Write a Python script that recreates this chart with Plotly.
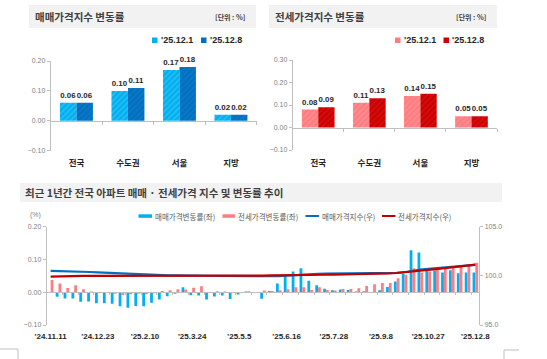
import plotly.graph_objects as go

W, H = 547, 359

# ---------------- data ----------------
regions = ["전국", "수도권", "서울", "지방"]
week_prev_label = "'25.12.1"
week_curr_label = "'25.12.8"
sale_prev = [0.06, 0.10, 0.17, 0.02]
sale_curr = [0.06, 0.11, 0.18, 0.02]
jeonse_prev = [0.08, 0.11, 0.14, 0.05]
jeonse_curr = [0.09, 0.13, 0.15, 0.05]

weeks = [
    "'24.11.11", "'24.11.18", "'24.11.25", "'24.12.2", "'24.12.9", "'24.12.16",
    "'24.12.23", "'24.12.30", "'25.1.6", "'25.1.13", "'25.1.20", "'25.2.3",
    "'25.2.10", "'25.2.17", "'25.2.24", "'25.3.3", "'25.3.10", "'25.3.17",
    "'25.3.24", "'25.3.31", "'25.4.7", "'25.4.14", "'25.4.21", "'25.4.28",
    "'25.5.5", "'25.5.12", "'25.5.19", "'25.5.26", "'25.6.2", "'25.6.9",
    "'25.6.16", "'25.6.23", "'25.6.30", "'25.7.7", "'25.7.14", "'25.7.21",
    "'25.7.28", "'25.8.4", "'25.8.11", "'25.8.18", "'25.8.25", "'25.9.1",
    "'25.9.8", "'25.9.15", "'25.9.22", "'25.9.29", "'25.10.13", "'25.10.20",
    "'25.10.27", "'25.11.3", "'25.11.10", "'25.11.17", "'25.11.24", "'25.12.1",
    "'25.12.8",
]
week_ticks = ["'24.11.11", "'24.12.23", "'25.2.10", "'25.3.24", "'25.5.5",
              "'25.6.16", "'25.7.28", "'25.9.8", "'25.10.27", "'25.12.8"]

sale_change = [
    0.000, -0.014, -0.019, -0.019, -0.029, -0.028, -0.034, -0.034, -0.035, -0.043,
    -0.047, -0.042, -0.043, -0.032, -0.022, -0.012, -0.005, 0.015, -0.009, -0.010,
    -0.022, -0.013, -0.010, -0.021, -0.007, 0.002, 0.001, -0.020, 0.004, 0.027,
    0.049, 0.063, 0.073, 0.035, 0.021, 0.011, 0.006, 0.008, 0.007, 0.002,
    0.003, 0.000, 0.006, 0.016, 0.033, 0.056, 0.128, 0.121, 0.065, 0.066,
    0.060, 0.067, 0.058, 0.060, 0.060,
]
jeonse_change = [
    0.037, 0.027, 0.013, 0.021, 0.009, 0.002, -0.003, -0.002, -0.005, -0.009,
    -0.006, -0.005, -0.006, -0.003, 0.004, 0.006, 0.009, 0.008, 0.014, 0.018,
    -0.002, 0.003, 0.002, 0.000, -0.001, 0.003, -0.002, 0.005, 0.004, 0.006,
    0.009, 0.015, 0.015, 0.007, 0.015, 0.007, 0.005, 0.010, 0.010, 0.012,
    0.019, 0.024, 0.028, 0.028, 0.043, 0.053, 0.073, 0.060, 0.063, 0.073,
    0.073, 0.080, 0.080, 0.080, 0.090,
]
sale_index = [
    100.50, 100.49, 100.47, 100.45, 100.42, 100.39, 100.36, 100.32, 100.29, 100.24,
    100.20, 100.15, 100.11, 100.08, 100.06, 100.04, 100.04, 100.05, 100.04, 100.03,
    100.01, 100.00, 99.99, 99.97, 99.96, 99.96, 99.96, 99.94, 99.95, 99.97,
    100.02, 100.08, 100.16, 100.19, 100.21, 100.22, 100.23, 100.24, 100.24, 100.25,
    100.25, 100.25, 100.26, 100.28, 100.31, 100.37, 100.52, 100.64, 100.71, 100.78,
    100.85, 100.92, 100.99, 101.06, 101.12,
]
jeonse_index = [
    99.93, 99.96, 99.97, 99.99, 100.00, 100.00, 100.00, 100.00, 99.99, 99.98,
    99.98, 99.97, 99.97, 99.96, 99.97, 99.97, 99.98, 99.99, 100.01, 100.02,
    100.02, 100.02, 100.03, 100.03, 100.03, 100.03, 100.03, 100.03, 100.04, 100.04,
    100.05, 100.07, 100.08, 100.09, 100.10, 100.11, 100.12, 100.13, 100.14, 100.15,
    100.17, 100.19, 100.22, 100.25, 100.29, 100.35, 100.45, 100.52, 100.60, 100.69,
    100.78, 100.87, 100.96, 101.05, 101.15,
]

legend_bottom = ["매매가격변동률(좌)", "전세가격변동률(좌)", "매매가격지수(우)", "전세가격지수(우)"]

# ---------------- styles ----------------
KR = "Noto Sans CJK KR"
LAT = "Liberation Sans, Arial"
AX = "#BFBFBF"
TICK = "#7F7F7F"
DARK = "#262626"

C_SALE_L, C_SALE_D = "#00B0F0", "#0070C0"
C_JS_L, C_JS_D = "#FF7C80", "#CC0000"
C_LINE_B, C_LINE_R = "#0070C0", "#C00000"


def fx(p):
    return p / W


def fy(p):
    return 1 - p / H


def zero_pos(dom, rng):
    return dom[0] + (0 - rng[0]) / (rng[1] - rng[0]) * (dom[1] - dom[0])


TL_X, TL_Y, TL_R = [fx(50.7), fx(256.7)], [fy(150.7), fy(61)], [-0.1, 0.2]
TR_X, TR_Y, TR_R = [fx(292.7), fx(497)], [fy(150), fy(60)], [-0.1, 0.3]
B_X, B_Y, B_R, B_R2 = [fx(46.7), fx(479.3)], [fy(325), fy(226.7)], [-0.1, 0.2], [95, 105]

fig = go.Figure()


def pattern(fg):
    return dict(shape="/", fillmode="overlay", fgcolor=fg, fgopacity=0.4, size=4, solidity=0.3)


bar_text = dict(family=LAT, size=7.9, color=DARK, weight="bold")
TW = 0.32  # top bar width (category units)
BW = 0.355  # bottom bar width


def top_bar(x, y, name, color, fg, xa, ya, off):
    fig.add_trace(go.Bar(x=x, y=y, name=name, xaxis=xa, yaxis=ya, width=TW, offset=off,
                         marker=dict(color=color, pattern=pattern(fg), line=dict(width=0)),
                         texttemplate="%{y:.2f}", textposition="outside", textfont=bar_text,
                         constraintext="none", cliponaxis=False, showlegend=False))


top_bar(regions, sale_prev, week_prev_label, C_SALE_L, "#7FD8F8", "x", "y", -TW)
top_bar(regions, sale_curr, week_curr_label, C_SALE_D, "#2A8AD0", "x", "y", 0)
top_bar(regions, jeonse_prev, week_prev_label, C_JS_L, "#FFB0B2", "x3", "y3", -TW)
top_bar(regions, jeonse_curr, week_curr_label, C_JS_D, "#E03030", "x3", "y3", 0)

# bottom: weekly changes (left) and indices (right)
fig.add_trace(go.Bar(x=weeks, y=sale_change, name=legend_bottom[0], xaxis="x5", yaxis="y5",
                     width=BW, offset=-BW, marker=dict(color=C_SALE_L, line=dict(width=0)),
                     showlegend=False))
fig.add_trace(go.Bar(x=weeks, y=jeonse_change, name=legend_bottom[1], xaxis="x5", yaxis="y5",
                     width=BW, offset=0, marker=dict(color=C_JS_L, line=dict(width=0)),
                     showlegend=False))
fig.add_trace(go.Scatter(x=weeks, y=sale_index, name=legend_bottom[2], xaxis="x5", yaxis="y6",
                         mode="lines", line=dict(color=C_LINE_B, width=2.2), showlegend=False))
fig.add_trace(go.Scatter(x=weeks, y=jeonse_index, name=legend_bottom[3], xaxis="x5", yaxis="y6",
                         mode="lines", line=dict(color=C_LINE_R, width=2.2), showlegend=False))

# zero-line axes carriers (no visible marks)
fig.add_trace(go.Scatter(x=regions, y=[None] * 4, xaxis="x2", yaxis="y", mode="markers",
                         showlegend=False, hoverinfo="skip"))
fig.add_trace(go.Scatter(x=regions, y=[None] * 4, xaxis="x4", yaxis="y3", mode="markers",
                         showlegend=False, hoverinfo="skip"))
fig.add_trace(go.Scatter(x=weeks, y=[None] * len(weeks), xaxis="x6", yaxis="y5", mode="markers",
                         showlegend=False, hoverinfo="skip"))

ytick_font = dict(family=LAT, size=7, color=TICK)
cat_font = dict(family=KR, size=8.5, color=DARK, weight="bold")
date_font = dict(family=LAT, size=8, color=DARK, weight="bold")


def yax(dom, rng, dtick, anchor, side="left", overlaying=None):
    d = dict(domain=dom, range=rng, dtick=dtick, tickformat=".2f" if dtick < 1 else ".1f",
             showgrid=False, zeroline=False, showline=True, linecolor=AX, linewidth=1,
             ticks="outside", ticklen=3, tickcolor=AX, tickfont=ytick_font, anchor=anchor,
             side=side, fixedrange=True, automargin=False)
    if overlaying:
        d["overlaying"] = overlaying
    return d


def xcat(dom, anchor, cats, font, tickvals=None, standoff=4):
    d = dict(domain=dom, anchor=anchor, type="category", categoryorder="array", categoryarray=cats,
             range=[-0.5, len(cats) - 0.5], showgrid=False, zeroline=False, showline=False,
             ticks="", tickfont=font, ticklabelstandoff=standoff, fixedrange=True, automargin=False)
    if tickvals is not None:
        d["tickmode"] = "array"
        d["tickvals"] = tickvals
    return d


def xzero(dom, over, cats, pos, ticklen=3):
    return dict(domain=dom, overlaying=over, anchor="free", position=pos, type="category",
                categoryorder="array", categoryarray=cats, range=[-0.5, len(cats) - 0.5],
                showgrid=False, zeroline=False, showline=True, linecolor=AX, linewidth=1,
                ticks="outside", ticklen=ticklen, tickcolor=AX, tickson="boundaries",
                showticklabels=False, fixedrange=True, automargin=False)


fig.update_layout(
    width=W, height=H, margin=dict(l=0, r=0, t=0, b=0, pad=0, autoexpand=False),
    paper_bgcolor="white", plot_bgcolor="rgba(0,0,0,0)",
    barmode="group", showlegend=False,
    xaxis=xcat(TL_X, "y", regions, cat_font, standoff=6),
    yaxis=yax(TL_Y, TL_R, 0.1, "x"),
    xaxis2=xzero(TL_X, "x", regions, zero_pos(TL_Y, TL_R)),
    xaxis3=xcat(TR_X, "y3", regions, cat_font, standoff=6),
    yaxis3=yax(TR_Y, TR_R, 0.1, "x3"),
    xaxis4=xzero(TR_X, "x3", regions, zero_pos(TR_Y, TR_R)),
    xaxis5=xcat(B_X, "y5", weeks, date_font, tickvals=week_ticks, standoff=5),
    yaxis5=yax(B_Y, B_R, 0.1, "x5"),
    yaxis6=yax(B_Y, B_R2, 5, "x5", side="right", overlaying="y5"),
    xaxis6=xzero(B_X, "x5", weeks, zero_pos(B_Y, B_R), ticklen=2),
)


def rect(x0, x1, y0, y1, color, layer="below"):
    return dict(type="rect", xref="paper", yref="paper", x0=fx(x0), x1=fx(x1), y0=fy(y1), y1=fy(y0),
                fillcolor=color, line=dict(width=0), layer=layer)


def hline(x0, x1, y, color, width):
    return dict(type="line", xref="paper", yref="paper", x0=fx(x0), x1=fx(x1), y0=fy(y), y1=fy(y),
                line=dict(color=color, width=width), layer="above")


shapes = [
    # title bands
    rect(29, 256, 5, 28, "#F2F2F2"),
    rect(269, 497, 5, 28, "#F2F2F2"),
    rect(20, 502, 183, 202, "#F2F2F2"),
    # legend swatches (top charts)
    rect(152, 157.5, 37.5, 43, C_SALE_L, "above"),
    rect(201, 206.5, 37.5, 43, C_SALE_D, "above"),
    rect(395, 400.5, 37.5, 43, C_JS_L, "above"),
    rect(443.5, 449, 37.5, 43, C_JS_D, "above"),
    # legend swatches (bottom chart)
    rect(138.5, 152, 214.3, 217.8, C_SALE_L, "above"),
    rect(222.5, 235, 214.3, 217.8, C_JS_L, "above"),
    hline(305.5, 319, 216, C_LINE_B, 2),
    hline(382, 395.5, 216, C_LINE_R, 2),
    # page decorations
    dict(type="path", xref="paper", yref="paper",
         path=f"M 0 {fy(349)} L {fx(18)} {fy(349)} L {fx(18)} 0", line=dict(color="#BFBFBF", width=1)),
    dict(type="path", xref="paper", yref="paper",
         path=f"M {fx(504)} 0 L {fx(504)} {fy(350)} L {fx(519)} {fy(350)}", line=dict(color="#BFBFBF", width=1)),
]
fig.update_layout(shapes=shapes)

title_font = dict(family=KR, size=10.5, color="#404040", weight="bold")
unit_font = dict(family=KR, size=7, color="#404040", weight="bold")
leg_font = dict(family=LAT, size=9, color=DARK, weight="bold")
leg3_font = dict(family=KR, size=7.5, color="#595959")
ann = [
    dict(text="매매가격지수 변동률", x=fx(33), y=fy(16.5), xanchor="left", yanchor="middle", font=title_font),
    dict(text="[단위 : %]", x=fx(247), y=fy(17), xanchor="right", yanchor="middle", font=unit_font),
    dict(text="전세가격지수 변동률", x=fx(273), y=fy(16.5), xanchor="left", yanchor="middle", font=title_font),
    dict(text="[단위 : %]", x=fx(488), y=fy(17), xanchor="right", yanchor="middle", font=unit_font),
    dict(text="최근 1년간 전국 아파트 매매 · 전세가격 지수 및 변동률 추이", x=fx(23), y=fy(192.5),
         xanchor="left", yanchor="middle", font=title_font),
    dict(text="(%)", x=fx(28), y=fy(215), xanchor="left", yanchor="middle",
         font=dict(family=LAT, size=7, color=TICK)),
    # legends
    dict(text=week_prev_label, x=fx(158.5), y=fy(40.3), xanchor="left", yanchor="middle", font=leg_font),
    dict(text=week_curr_label, x=fx(207.5), y=fy(40.3), xanchor="left", yanchor="middle", font=leg_font),
    dict(text=week_prev_label, x=fx(401.5), y=fy(40.3), xanchor="left", yanchor="middle", font=leg_font),
    dict(text=week_curr_label, x=fx(450), y=fy(40.3), xanchor="left", yanchor="middle", font=leg_font),
    dict(text=legend_bottom[0], x=fx(153), y=fy(216), xanchor="left", yanchor="middle", font=leg3_font),
    dict(text=legend_bottom[1], x=fx(236), y=fy(216), xanchor="left", yanchor="middle", font=leg3_font),
    dict(text=legend_bottom[2], x=fx(320), y=fy(216), xanchor="left", yanchor="middle", font=leg3_font),
    dict(text=legend_bottom[3], x=fx(396), y=fy(216), xanchor="left", yanchor="middle", font=leg3_font),
]
for a in ann:
    a.update(xref="paper", yref="paper", showarrow=False)
fig.update_layout(annotations=ann)

fig.write_html(
    "out.html",
    config={"displayModeBar": False, "staticPlot": True},
    post_script="document.body.style.margin='0';document.body.style.padding='0';"
                "document.documentElement.style.overflow='hidden';",
)
